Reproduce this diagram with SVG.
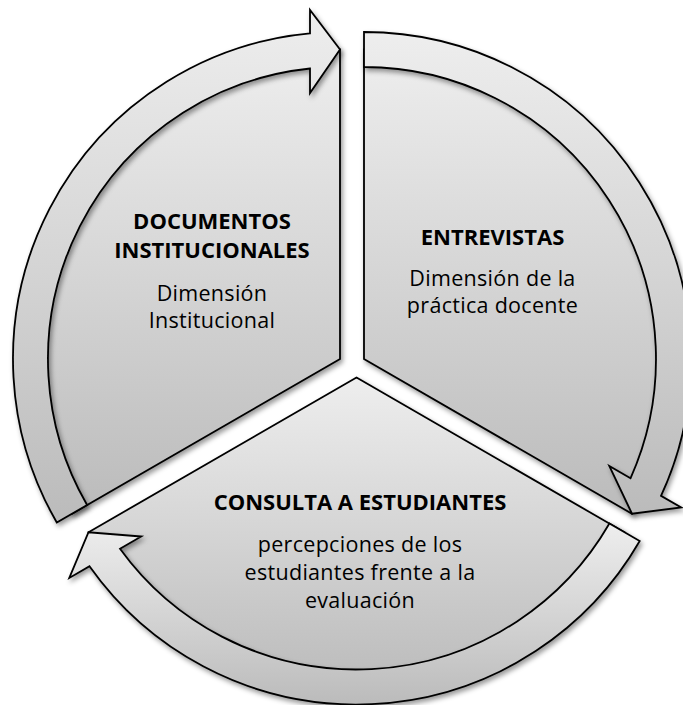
<svg xmlns="http://www.w3.org/2000/svg" width="683" height="705" viewBox="0 0 683 705">
  <style>
    .shape { fill: url(#grad); stroke: #000; stroke-width: 1.8; stroke-linejoin: miter; filter: url(#shadow); }
    .title { font-family: "Open Sans", "Noto Sans", sans-serif; font-weight: bold; font-size: 22px; fill: #000; text-anchor: middle; }
    .body { font-family: "Open Sans", "Noto Sans", sans-serif; font-size: 21.5px; letter-spacing: 0.3px; fill: #000; text-anchor: middle; }
  </style>
  <defs>
    <linearGradient id="grad" x1="0" y1="0" x2="0" y2="1">
      <stop offset="0" stop-color="#eeeeee"/>
      <stop offset="1" stop-color="#bbbbbb"/>
    </linearGradient>
    <filter id="shadow" x="-10%" y="-10%" width="125%" height="125%">
      <feDropShadow dx="2" dy="3" stdDeviation="2.5" flood-color="#000" flood-opacity="0.4"/>
    </filter>
  </defs>

  <g id="node-documentos">
    <path class="shape" d="M340,359 L340,49.5 A309.5,309.5 0 0 0 72,513.75 Z"/>
    <text class="title" x="212" y="229.3">DOCUMENTOS</text>
    <text class="title" x="212" y="258.3">INSTITUCIONALES</text>
    <text class="body" x="212" y="300.7">Dimensión</text>
    <text class="body" x="212" y="328.3">Institucional</text>
  </g>

  <g id="node-entrevistas">
    <path class="shape" d="M364,359 L364,49.5 A309.5,309.5 0 0 1 632,513.75 Z"/>
    <text class="title" x="492.5" y="245">ENTREVISTAS</text>
    <text class="body" x="492.5" y="285.6">Dimensión de la</text>
    <text class="body" x="492.5" y="313">práctica docente</text>
  </g>

  <g id="node-consulta">
    <path class="shape" d="M356.5,377.5 L624.5,532.25 A309.5,309.5 0 0 1 88.5,532.25 Z"/>
    <text class="title" x="360" y="510">CONSULTA A ESTUDIANTES</text>
    <text class="body" x="360" y="552.3">percepciones de los</text>
    <text class="body" x="360" y="580">estudiantes frente a la</text>
    <text class="body" x="360" y="607.7">evaluación</text>
  </g>

  <g id="connectors">
    <path class="shape" d="M56.8,522.5 A327,327 0 0 1 310,33.4 L310,10 L340,49.5 L310,93 L310,68.5 A292,292 0 0 0 87.1,505 Z"/>
    <path class="shape" d="M364,32 A327,327 0 0 1 661,495.9 L681.2,507.5 L632,513.75 L609.3,466 L630.5,478.3 A292,292 0 0 0 364,67 Z"/>
    <path class="shape" d="M639.7,541 A327,327 0 0 1 89.5,566.3 L69.3,578 L88.5,532.25 L141.2,536.5 L120,548.7 A292,292 0 0 0 609.4,523.5 Z"/>
  </g>
</svg>
